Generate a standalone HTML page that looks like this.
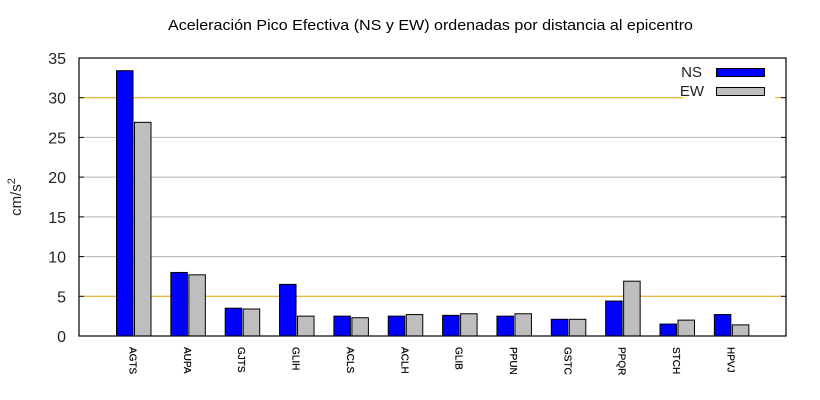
<!DOCTYPE html>
<html><head><meta charset="utf-8"><style>
body{margin:0;background:#fff;}
svg{display:block;font-family:"Liberation Sans",sans-serif;}
</style></head><body>
<svg id="s" width="820" height="400" xmlns="http://www.w3.org/2000/svg">
<rect width="820" height="400" fill="#fff"/>
<text x="168" y="30" font-size="14.5" textLength="525" lengthAdjust="spacingAndGlyphs">Aceleración Pico Efectiva (NS y EW) ordenadas por distancia al epicentro</text>
<text transform="translate(21,197) rotate(-90)" text-anchor="middle" font-size="15" fill="#222">cm/s<tspan dy="-6" font-size="11">2</tspan></text>
<g id="g"></g>
</svg>
<script>
var g=document.getElementById('g'),h='';
function Y(v){return 336-7.943*v;}
var L=79,R=786;
for(var v=0;v<=35;v+=5){var y=Y(v).toFixed(1);
 if(v>0&&v<35){var col=(v==30||v==5)?'#e0a000':'#b4b4b4';
  if(v==30){h+='<line x1="'+(L+4)+'" x2="683" y1="'+y+'" y2="'+y+'" stroke="'+col+'"/><line x1="775" x2="'+(R-4)+'" y1="'+y+'" y2="'+y+'" stroke="'+col+'"/>';}
  else h+='<line x1="'+(L+4)+'" x2="'+(R-4)+'" y1="'+y+'" y2="'+y+'" stroke="'+col+'"/>';}
 h+='<line x1="'+L+'" x2="'+(L+5)+'" y1="'+y+'" y2="'+y+'" stroke="#000"/><line x1="'+(R-5)+'" x2="'+R+'" y1="'+y+'" y2="'+y+'" stroke="#000"/>';
 h+='<text x="66" y="'+(Y(v)+6)+'" text-anchor="end" font-size="16" fill="#222">'+v+'</text>';}
var lab=['AGTS','AUPA','GJTS','GLIH','ACLS','ACLH','GLIB','PPUN','GSTC','PPQR','STCH','HPVJ'];
var ns=[33.4,8.0,3.5,6.5,2.5,2.5,2.6,2.5,2.1,4.4,1.5,2.7];
var ew=[26.9,7.7,3.4,2.5,2.3,2.7,2.8,2.8,2.1,6.9,2.0,1.4];
for(var i=0;i<12;i++){var c=133+54.35*i;
 h+='<rect x="'+(c-16.5)+'" y="'+Y(ns[i])+'" width="16.5" height="'+(336-Y(ns[i]))+'" fill="#0000ff" stroke="#000" stroke-width="1"/>';
 h+='<rect x="'+(c+1.5)+'" y="'+Y(ew[i])+'" width="16.5" height="'+(336-Y(ew[i]))+'" fill="#bebebe" stroke="#000" stroke-width="1"/>';
 h+='<text transform="translate('+(c-3.5)+',347) rotate(90)" font-size="10" fill="#000" stroke="#000" stroke-width="0.2">'+lab[i]+'</text>';}
h+='<rect x="'+L+'" y="58" width="'+(R-L)+'" height="278" fill="none" stroke="#000" stroke-width="1.2"/>';
h+='<text x="702" y="77" text-anchor="end" font-size="15" fill="#222">NS</text><rect x="716.5" y="68.5" width="48" height="8" fill="#0000ff" stroke="#000"/>';
h+='<text x="704" y="96" text-anchor="end" font-size="15" fill="#222">EW</text><rect x="716.5" y="87.5" width="48" height="8" fill="#bebebe" stroke="#000"/>';
g.innerHTML=h;
</script>
</body></html>
